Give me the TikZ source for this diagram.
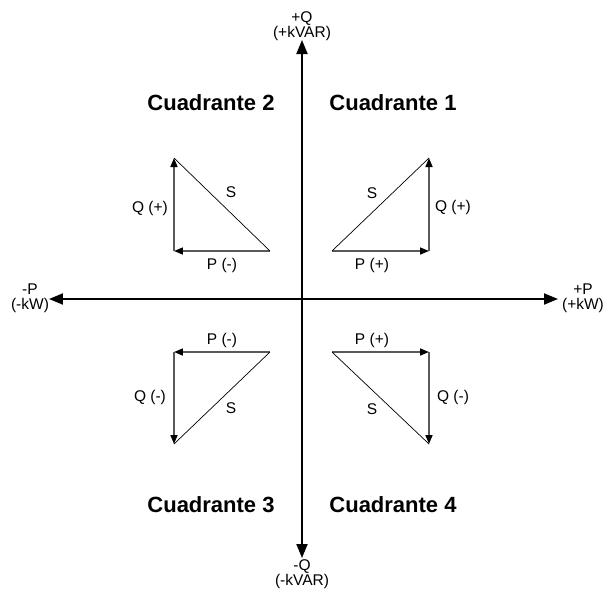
\documentclass[tikz,border=0pt]{standalone}
\usepackage{fontspec}
\setmainfont{Liberation Sans}
\usetikzlibrary{arrows.meta}
\tikzset{
  axis/.style={line width=2pt,-{Triangle[length=14pt,width=11pt]}},
  vect/.style={draw=black!65,line width=1.6pt,-{Triangle[length=9pt,width=7pt,black]}},
  hyp/.style={draw=black,line width=0.7pt},
  lbl/.style={font=\fontsize{15.5}{15}\selectfont,inner sep=0pt},
  axlbl/.style={font=\fontsize{15.5}{15}\selectfont,align=center,inner sep=0pt},
  quad/.style={font=\fontsize{22}{24}\bfseries,inner sep=0pt}
}
\begin{document}
\begin{tikzpicture}[x=1pt,y=1pt]
  \useasboundingbox (-302,-291) rectangle (303,299);
  % axes
  \coordinate (o) at (0,0);
  \coordinate (e) at (256,0);
  \coordinate (w) at (-253,0);
  \coordinate (n) at (0,259);
  \coordinate (s) at (0,-259);
  \draw[axis] (o) -- (e);
  \draw[axis] (o) -- (w);
  \draw[axis] (o) -- (n);
  \draw[axis] (o) -- (s);
  \node[axlbl] (qpos) at (0,273) {+Q\\(+kVAR)};
  \node[axlbl] (qneg) at (0,-275) {-Q\\(-kVAR)};
  \node[axlbl] (ppos) at (281,1) {+P\\(+kW)};
  \node[axlbl] (pneg) at (-272,1) {-P\\(-kW)};
  % quadrant titles
  \node[quad] (cuad1) at (91,196) {Cuadrante 1};
  \node[quad] (cuad2) at (-91,196) {Cuadrante 2};
  \node[quad] (cuad3) at (-91,-206) {Cuadrante 3};
  \node[quad] (cuad4) at (91,-206) {Cuadrante 4};
  % triangles
  \foreach \i/\sx/\sy in {1/1/1,2/-1/1,3/-1/-1,4/1/-1}{
    \pgfmathsetmacro{\ax}{\sx>0 ? 30 : -32}
    \pgfmathsetmacro{\ay}{\sy>0 ? 48 : -53}
    \pgfmathsetmacro{\bx}{\sx>0 ? 127 : -128}
    \pgfmathsetmacro{\cy}{\sy>0 ? 141 : -145}
    \coordinate (a\i) at (\ax,\ay);
    \coordinate (b\i) at (\bx,\ay);
    \coordinate (c\i) at (\bx,\cy);
    \draw[vect] (a\i) -- (b\i);
    \draw[vect] (b\i) -- (c\i);
    \draw[hyp] (a\i) -- (c\i);
  }
  % labels
  \node[lbl] (s1) at (70,106) {S};
  \node[lbl] (q1) at (151,92) {Q (+)};
  \node[lbl] (p1) at (70,34) {P (+)};
  \node[lbl] (s2) at (-71,107) {S};
  \node[lbl] (q2) at (-152,91) {Q (+)};
  \node[lbl] (p2) at (-80,34) {P (-)};
  \node[lbl] (p3) at (-80,-41) {P (-)};
  \node[lbl] (q3) at (-152,-98) {Q (-)};
  \node[lbl] (s3) at (-71,-109) {S};
  \node[lbl] (p4) at (70,-41) {P (+)};
  \node[lbl] (q4) at (151,-98) {Q (-)};
  \node[lbl] (s4) at (70,-110) {S};
\end{tikzpicture}
\end{document}
